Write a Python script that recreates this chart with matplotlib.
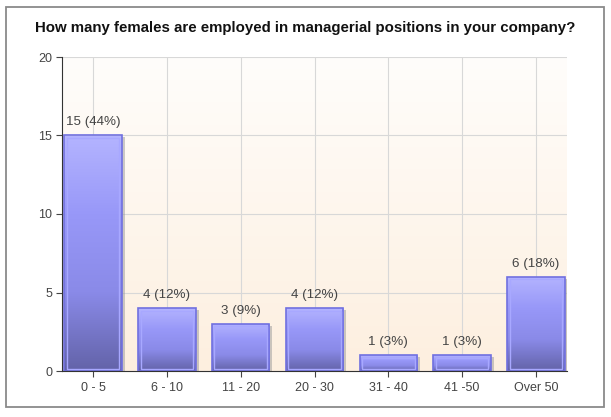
import numpy as np
import matplotlib
matplotlib.use("Agg")
import matplotlib.pyplot as plt
from matplotlib.patches import Rectangle
from matplotlib.colors import LinearSegmentedColormap

categories = ["0 - 5", "6 - 10", "11 - 20", "20 - 30", "31 - 40", "41 -50", "Over 50"]
counts = [15, 4, 3, 4, 1, 1, 6]
percents = [44, 12, 9, 12, 3, 3, 18]
title = "How many females are employed in managerial positions in your company?"

plt.rcParams['font.family'] = ['Liberation Sans', 'DejaVu Sans']

fig = plt.figure(figsize=(6.11, 4.17), dpi=100)
W, H = 611, 417
# outer frame
fig.patches.append(Rectangle((6 / W, 1 - 407 / H), 598 / W, 400 / H, transform=fig.transFigure,
                             fill=False, edgecolor="#8a8a8a", linewidth=1.3))
fig.text(0.5 - 0.5 / W, 1 - 28 / H, title, ha="center", va="center", fontsize=10.8,
         fontweight="bold", color="#111111")

ax = fig.add_axes([62 / W, 46 / H, 505 / W, 314 / H])
x = np.arange(len(categories))
xlim = (-0.42, len(categories) - 0.58)
ylim = (0, 20)
ax.set_xlim(*xlim)
ax.set_ylim(*ylim)

# background gradient
bg = LinearSegmentedColormap.from_list("bg", ["#fdefdf", "#fffdfb"])
grad = np.linspace(0, 1, 256).reshape(-1, 1)
ax.imshow(grad, extent=[xlim[0], xlim[1], ylim[0], ylim[1]], aspect="auto", cmap=bg,
          origin="lower", zorder=0)

ax.set_yticks([0, 5, 10, 15, 20])
ax.set_xticks(x)
ax.set_xticklabels(categories)
ax.grid(True, color="#d8d8d8", linewidth=0.8, zorder=1)
ax.set_axisbelow(True)
ax.tick_params(axis="both", colors="#444444", labelsize=9, length=4, width=0.8)
ax.tick_params(axis="y", pad=3)
ax.tick_params(axis="x", pad=4)
for s in ["top", "right"]:
    ax.spines[s].set_visible(False)
ax.spines["left"].set_color("#333333")
ax.spines["bottom"].set_color("#333333")
ax.spines["left"].set_zorder(6)
ax.spines["bottom"].set_zorder(6)

barcm = LinearSegmentedColormap.from_list("bar", ["#6363a8", "#8a8ae8", "#9898f8", "#b4b4ff"])
bw = 0.78
bars = ax.bar(x, counts, width=bw, color="none", edgecolor="none", zorder=2)
for xi, b, c, p in zip(x, bars, counts, percents):
    sh = Rectangle((xi - bw / 2 + 0.04, 0), bw, c - 0.12, facecolor="#999999", alpha=0.5,
                   edgecolor="none", zorder=2)
    ax.add_patch(sh)
    im = ax.imshow(grad, extent=[xi - bw / 2, xi + bw / 2, 0, c], aspect="auto", cmap=barcm,
                   origin="lower", zorder=3)
    rect = Rectangle((xi - bw / 2, 0), bw, c, facecolor="none", edgecolor="#7070e0",
                     linewidth=1.2, zorder=4)
    ax.add_patch(rect)
    im.set_clip_path(rect)
    inner = Rectangle((xi - bw / 2 + 0.035, 0.15), bw - 0.07, c - 0.3, facecolor="none",
                      edgecolor="#a8a8ff", linewidth=1.0, zorder=4)
    ax.add_patch(inner)
    ax.text(xi, c + 0.45, f"{c} ({p}%)", ha="center", va="bottom", fontsize=9.6,
            color="#444444", zorder=5)

ax.set_xlim(*xlim)
ax.set_ylim(*ylim)
fig.savefig("out.png", dpi=100, facecolor="white")
